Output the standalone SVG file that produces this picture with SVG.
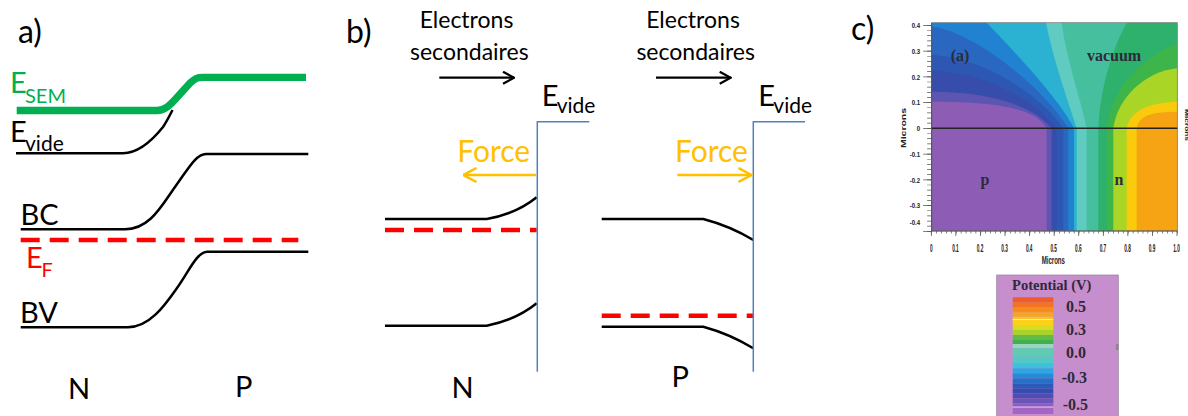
<svg xmlns="http://www.w3.org/2000/svg" width="1188" height="416" viewBox="0 0 1188 416">
<style>
.t{font-family:Lato,'Open Sans','Liberation Sans',sans-serif;}
.band{fill:none;stroke:#000;stroke-width:2.5;}
.ef{fill:none;stroke:#ff0000;stroke-width:4.5;stroke-dasharray:19 10;}
.bar{fill:none;stroke:#4f81bd;stroke-width:1.5;}
.tn{font-family:'Liberation Serif','Times New Roman',serif;font-weight:bold;fill:#2d2a3a;}
.ax{font-family:'Liberation Sans',Arial,sans-serif;font-weight:bold;fill:#222;}
.tk{fill:none;stroke:#555;}
</style>
<defs>
<marker id="ahK" viewBox="0 0 13 14" refX="12" refY="7" markerWidth="13" markerHeight="14" markerUnits="userSpaceOnUse" orient="auto">
<path d="M1,1 L12,7 L1,13" fill="none" stroke="#000" stroke-width="2.2"/>
</marker>
<marker id="ahO" viewBox="0 0 15 16" refX="14" refY="8" markerWidth="15" markerHeight="16" markerUnits="userSpaceOnUse" orient="auto">
<path d="M1,1 L14,8 L1,15" fill="none" stroke="#ffc000" stroke-width="2.5"/>
</marker>
</defs>
<rect width="1188" height="416" fill="#fff"/>

<!-- Panel a -->
<g id="panel-a">
<text class="t" x="18" y="42.5" font-size="32">a)</text>
<path d="M16.7 110.5 H157 C165 110.5 170 105 176 98.5 L190 83 C195 78.5 197 77.3 203 77.3 H306" fill="none" stroke="#00b050" stroke-width="7.3"/>
<path class="band" d="M16 153.3 H123 C140 153 155 137 163 127 C167 121 170 115 172.5 110"/>
<path class="band" d="M20.7 229.3 H125 C150 229.3 162 205 175 187 C188 169 196 154 206 154 H308.3"/>
<path class="band" d="M20.7 327.3 H128 C150 327 165 305 177 288 C189 271 197 252 207 251.7 H308.3"/>
<path class="ef" d="M20.7 240 H298.3"/>
<text class="t" fill="#00b050" font-size="29"><tspan x="10" y="93.3">E</tspan><tspan x="25" y="102.7" font-size="20">SEM</tspan></text>
<text class="t" fill="#000" font-size="29"><tspan x="10" y="141.7">E</tspan><tspan x="25" y="150.7" font-size="21">vide</tspan></text>
<text class="t" x="20.5" y="225" font-size="29">BC</text>
<text class="t" fill="#ff0000" font-size="29"><tspan x="26" y="268.3">E</tspan><tspan x="41.5" y="277.3" font-size="20">F</tspan></text>
<text class="t" x="20" y="322.7" font-size="29">BV</text>
<text class="t" x="68" y="399" font-size="29">N</text>
<text class="t" x="235" y="397.3" font-size="29">P</text>
</g>

<!-- Panel b -->
<g id="panel-b">
<text class="t" x="346" y="42.5" font-size="32">b)</text>
<text class="t" x="466.5" y="28.3" font-size="23" text-anchor="middle">Electrons</text>
<text class="t" x="469.3" y="60" font-size="23" text-anchor="middle">secondaires</text>
<text class="t" x="693" y="28.3" font-size="23" text-anchor="middle">Electrons</text>
<text class="t" x="695.7" y="60" font-size="23" text-anchor="middle">secondaires</text>
<text class="t" font-size="29"><tspan x="541.7" y="105.7">E</tspan><tspan x="556.7" y="113.3" font-size="21">vide</tspan></text>
<text class="t" font-size="29"><tspan x="758.3" y="105.7">E</tspan><tspan x="773.3" y="113.3" font-size="21">vide</tspan></text>
<text class="t" x="457.3" y="161.7" font-size="30" fill="#ffc000">Force</text>
<text class="t" x="675" y="161.7" font-size="30" fill="#ffc000">Force</text>
<text class="t" x="451.5" y="398.3" font-size="29">N</text>
<text class="t" x="671.5" y="387.3" font-size="29">P</text>
<path class="band" d="M385 219 H486.7 Q516 214 536.7 197.3"/>
<path class="band" d="M385 325.7 H486.7 Q516 320 536.7 303.3"/>
<path class="ef" d="M385 230 H536.7"/>
<path class="band" d="M601.7 219 H703.3 Q730 226 753.3 240"/>
<path class="band" d="M601.7 326.7 H703.3 Q730 334 753.3 348.3"/>
<path class="ef" d="M601.7 315.7 H753.3"/>
<path class="bar" d="M589.3 121.7 H537.3 V371.7"/>
<path class="bar" d="M805 121.7 H753.3 V371.7"/>
</g>

<g id="connectors">
<path d="M439.3 77.7 H514" stroke="#000" stroke-width="2.2" marker-end="url(#ahK)"/>
<path d="M656 77.7 H730.7" stroke="#000" stroke-width="2.2" marker-end="url(#ahK)"/>
<path d="M536 175 H463.5" stroke="#ffc000" stroke-width="2.5" marker-end="url(#ahO)"/>
<path d="M677.3 175 H751.5" stroke="#ffc000" stroke-width="2.5" marker-end="url(#ahO)"/>
</g>

<!-- Panel c -->
<g id="panel-c">
<text class="t" x="851" y="39.5" font-size="32">c)</text>
<g transform="translate(920 20) scale(0.33333)">
<rect x="35" y="8" width="737" height="625" fill="#60cbc0"/>
<path fill="#2bb1d1" d="M35,8 L378,8 C400,120 440,230 470,325 L470,633 L35,633 Z"/>
<path fill="#2282d2" d="M35,8 L200,8 C270,80 420,240 462,325 L462,633 L35,633 Z"/>
<path fill="#2a67c0" d="M35,20 C150,30 360,190 445,325 L445,633 L35,633 Z"/>
<path fill="#2c58b4" d="M35,105 C180,110 360,220 430,325 L430,633 L35,633 Z"/>
<path fill="#374dab" d="M35,150 C200,160 350,240 410,325 L410,633 L35,633 Z"/>
<path fill="#5c55b2" d="M35,215 C220,215 340,260 395,325 L395,633 L35,633 Z"/>
<path fill="#8d5db5" d="M35,245 C250,245 350,270 380,325 L380,633 L35,633 Z"/>
<path fill="#46bf9f" d="M772,8 L425,8 C440,120 480,230 500,325 L500,633 L772,633 Z"/>
<path fill="#2db16c" d="M772,8 L620,8 C580,80 540,200 535,325 L535,633 L772,633 Z"/>
<path fill="#3db54b" d="M772,70 C650,120 570,220 560,325 L560,633 L772,633 Z"/>
<path fill="#a9d527" d="M772,145 C670,155 590,240 580,325 L580,633 L772,633 Z"/>
<path fill="#f9cb0c" d="M772,245 C690,248 630,270 620,325 L620,633 L772,633 Z"/>
<path fill="#f6a414" d="M772,275 C700,275 655,285 650,325 L650,633 L772,633 Z"/>
<rect x="35" y="8" width="737" height="625" fill="none" stroke="#8a8a8a" stroke-width="2.5"/>
</g>
<path d="M931.7 128.3 H1177.3" stroke="#222" stroke-width="1.4"/>
<path d="M931.7 23 V231 H1177.3" fill="none" stroke="#444" stroke-width="0.8"/>
<path class="tk" d="M929.4 25 V232" stroke-width="4.6" stroke-dasharray="0.7 4.45"/>
<path class="tk" d="M927.4 24.9 V232" stroke-width="8.6" stroke-dasharray="0.8 24.95"/>
<path class="tk" d="M931.3 232.2 H1178" stroke-width="2.5" stroke-dasharray="0.7 4.214"/>
<path class="tk" d="M930.9 233.5 H1178" stroke-width="5" stroke-dasharray="0.8 23.77"/>
<text class="tn" x="960" y="60.5" font-size="16" text-anchor="middle">(a)</text>
<text class="tn" x="1114" y="60.5" font-size="16" text-anchor="middle">vacuum</text>
<text class="tn" x="985" y="184.5" font-size="16" text-anchor="middle">p</text>
<text class="tn" x="1119" y="184.5" font-size="16" text-anchor="middle">n</text>
<g class="ax" font-size="8" text-anchor="end">
<text transform="translate(920 28.2) scale(0.75 1)">0.4</text>
<text transform="translate(920 53.9) scale(0.75 1)">0.3</text>
<text transform="translate(920 79.7) scale(0.75 1)">0.2</text>
<text transform="translate(920 105.4) scale(0.75 1)">0.1</text>
<text transform="translate(920 131.2) scale(0.75 1)">0</text>
<text transform="translate(920 156.9) scale(0.75 1)">-0.1</text>
<text transform="translate(920 182.7) scale(0.75 1)">-0.2</text>
<text transform="translate(920 208.4) scale(0.75 1)">-0.3</text>
<text transform="translate(920 225.2) scale(0.75 1)">-0.4</text>
</g>
<g class="ax" font-size="10.5" text-anchor="middle">
<text transform="translate(931.3 252) scale(0.45 1)">0</text>
<text transform="translate(955.4 252) scale(0.45 1)">0.1</text>
<text transform="translate(980 252) scale(0.45 1)">0.2</text>
<text transform="translate(1004.6 252) scale(0.45 1)">0.3</text>
<text transform="translate(1029.2 252) scale(0.45 1)">0.4</text>
<text transform="translate(1053.7 252) scale(0.45 1)">0.5</text>
<text transform="translate(1078.3 252) scale(0.45 1)">0.6</text>
<text transform="translate(1102.9 252) scale(0.45 1)">0.7</text>
<text transform="translate(1127.5 252) scale(0.45 1)">0.8</text>
<text transform="translate(1152 252) scale(0.45 1)">0.9</text>
<text transform="translate(1176.6 252) scale(0.45 1)">1.0</text>
<text transform="translate(1053.3 263.5) scale(0.61 1)" font-size="10">Microns</text>
</g>
<text class="ax" transform="translate(906 128) rotate(-90)" font-size="8" text-anchor="middle" textLength="40" lengthAdjust="spacingAndGlyphs">Microns</text>
<text class="ax" transform="translate(1184.5 125) rotate(90)" font-size="6" fill="#444" text-anchor="middle" textLength="32" lengthAdjust="spacingAndGlyphs">Microns</text>
</g>

<g id="legend">
<rect x="996.7" y="275" width="121.6" height="145" fill="#c78ecd" stroke="#9c86a2" stroke-width="0.8"/>
<rect x="1116" y="344" width="2.5" height="6" fill="#888"/>
<text class="tn" x="1051.7" y="289.5" font-size="14.5" text-anchor="middle">Potential (V)</text>
<g>
<rect x="1012.7" y="297.3" width="40.6" height="5" fill="#ef5b2b"/>
<rect x="1012.7" y="302.3" width="40.6" height="5" fill="#f37224"/>
<rect x="1012.7" y="307.3" width="40.6" height="5" fill="#f68b1f"/>
<rect x="1012.7" y="312.3" width="40.6" height="4.4" fill="#f7a51a"/>
<rect x="1012.7" y="316.7" width="40.6" height="2.4" fill="#fbc02a"/>
<rect x="1012.7" y="319.1" width="40.6" height="0.9" fill="#fff3d0"/>
<rect x="1012.7" y="320" width="40.6" height="5" fill="#fbd21a"/>
<rect x="1012.7" y="325" width="40.6" height="5" fill="#d9db1f"/>
<rect x="1012.7" y="330" width="40.6" height="5" fill="#a8d32e"/>
<rect x="1012.7" y="335" width="40.6" height="5" fill="#62bb45"/>
<rect x="1012.7" y="340" width="40.6" height="4" fill="#3eb04e"/>
<rect x="1012.7" y="344" width="40.6" height="4.3" fill="#9ad6bf"/>
<rect x="1012.7" y="348.3" width="40.6" height="8.4" fill="#5ccdb2"/>
<rect x="1012.7" y="356.7" width="40.6" height="6.6" fill="#52c9c4"/>
<rect x="1012.7" y="363.3" width="40.6" height="5" fill="#3fbfdc"/>
<rect x="1012.7" y="368.3" width="40.6" height="5" fill="#2ea6e0"/>
<rect x="1012.7" y="373.3" width="40.6" height="5" fill="#258bd6"/>
<rect x="1012.7" y="378.3" width="40.6" height="5" fill="#2770c7"/>
<rect x="1012.7" y="383.3" width="40.6" height="5" fill="#2a5bb8"/>
<rect x="1012.7" y="388.3" width="40.6" height="5" fill="#354db0"/>
<rect x="1012.7" y="393.3" width="40.6" height="5" fill="#4f4db0"/>
<rect x="1012.7" y="398.3" width="40.6" height="5" fill="#6c55b8"/>
<rect x="1012.7" y="403.3" width="40.6" height="3.4" fill="#8a5dbf"/>
<rect x="1012.7" y="406.7" width="40.6" height="0.9" fill="#f4eaf6"/>
<rect x="1012.7" y="407.6" width="40.6" height="6.4" fill="#a466c6"/>
</g>
<g class="tn" font-size="16" fill="#3a3040">
<text x="1066" y="311.7">0.5</text>
<text x="1066" y="335">0.3</text>
<text x="1066" y="358.3">0.0</text>
<text x="1061.7" y="382.7">-0.3</text>
<text x="1062.7" y="410">-0.5</text>
</g>
</g>
</svg>
